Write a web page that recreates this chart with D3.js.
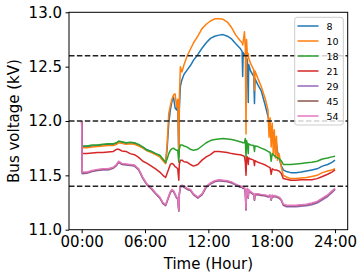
<!DOCTYPE html>
<html><head><meta charset="utf-8">
<script src="https://cdn.jsdelivr.net/npm/d3@7"></script>
<style>body{margin:0;background:#fff;} svg{display:block;font-family:"DejaVu Sans",sans-serif;}</style>
</head><body><svg id="c" width="364" height="278"></svg>
<script>
const hours = [0, 0.05, 0.5, 1, 1.5, 2, 2.5, 3, 3.3, 3.5,
  3.8, 4.2, 4.6, 5, 5.4, 5.8, 6.2, 6.6, 7, 7.4,
  7.7, 7.95, 8.1, 8.25, 8.4, 8.55, 8.7, 8.85, 9, 9.1,
  9.2, 9.25, 9.35, 9.5, 9.7, 10, 10.3, 10.6, 11, 11.4,
  11.8, 12.2, 12.6, 13, 13.4, 13.8, 14.2, 14.6, 15, 15.2,
  15.25, 15.3, 15.42, 15.5, 15.57, 15.62, 15.7, 15.78, 15.82, 16,
  16.3, 16.37, 16.42, 16.7, 17, 17.4, 17.65, 17.75, 17.85, 17.95,
  18.05, 18.15, 18.25, 18.35, 18.45, 18.55, 18.7, 18.9, 19.1, 19.4,
  19.8, 20.3, 20.8, 21.3, 21.8, 22.3, 22.8, 23.3, 23.7, 24];

const bus8 = [12.00, 11.765, 11.765, 11.77, 11.775, 11.78, 11.785, 11.785, 11.795, 11.81,
  11.805, 11.795, 11.80, 11.795, 11.78, 11.76, 11.735, 11.72, 11.70, 11.68,
  11.64, 11.61, 11.75, 11.98, 12.10, 12.18, 12.22, 12.12, 12.10, 12.18,
  11.67, 12.10, 12.32, 12.38, 12.43, 12.47, 12.51, 12.56, 12.61, 12.67,
  12.72, 12.76, 12.78, 12.79, 12.795, 12.78, 12.755, 12.71, 12.67, 12.64,
  12.41, 12.63, 12.61, 12.62, 12.55, 12.58, 12.56, 12.17, 12.52, 12.46,
  12.41, 12.16, 12.39, 12.33, 12.28, 12.14, 12.04, 12.00, 11.97, 11.94,
  11.92, 11.88, 11.85, 11.82, 11.79, 11.72, 11.66, 11.59, 11.55, 11.535,
  11.525, 11.525, 11.53, 11.54, 11.55, 11.56, 11.585, 11.60, 11.62, 11.64];

const bus10 = [12.00, 11.755, 11.755, 11.76, 11.765, 11.77, 11.775, 11.775, 11.785, 11.80,
  11.795, 11.785, 11.79, 11.785, 11.77, 11.75, 11.725, 11.71, 11.69, 11.67,
  11.635, 11.61, 11.80, 12.07, 12.14, 12.20, 12.24, 12.25, 12.13, 12.20,
  11.67, 12.20, 12.50, 12.45, 12.52, 12.60, 12.66, 12.72, 12.78, 12.85,
  12.89, 12.92, 12.94, 12.94, 12.935, 12.91, 12.86, 12.79, 12.74, 12.72,
  12.70, 12.73, 12.82, 12.68, 11.88, 12.75, 12.60, 12.62, 12.58, 12.53,
  12.47, 12.28, 12.46, 12.39, 12.32, 12.20, 12.10, 11.85, 12.03, 11.76,
  11.98, 11.70, 11.92, 11.66, 11.86, 11.64, 11.70, 11.58, 11.50, 11.485,
  11.47, 11.47, 11.475, 11.48, 11.49, 11.50, 11.525, 11.54, 11.55, 11.56];

const bus18 = [12.00, 11.77, 11.77, 11.78, 11.78, 11.785, 11.79, 11.79, 11.80, 11.815,
  11.81, 11.80, 11.805, 11.80, 11.785, 11.76, 11.73, 11.72, 11.70, 11.685,
  11.65, 11.62, 11.65, 11.70, 11.73, 11.745, 11.75, 11.74, 11.73, 11.73,
  11.62, 11.74, 11.78, 11.78, 11.77, 11.76, 11.74, 11.73, 11.74, 11.77,
  11.80, 11.82, 11.83, 11.835, 11.84, 11.835, 11.83, 11.82, 11.81, 11.805,
  11.80, 11.80, 11.80, 11.84, 11.66, 11.82, 11.79, 11.70, 11.79, 11.78,
  11.775, 11.72, 11.77, 11.765, 11.75, 11.735, 11.72, 11.715, 11.71, 11.63,
  11.70, 11.69, 11.68, 11.675, 11.665, 11.66, 11.655, 11.635, 11.60, 11.60,
  11.60, 11.605, 11.61, 11.615, 11.62, 11.63, 11.65, 11.66, 11.67, 11.675];

const bus21 = [12.00, 11.70, 11.70, 11.705, 11.71, 11.71, 11.715, 11.72, 11.74, 11.74,
  11.725, 11.72, 11.70, 11.69, 11.665, 11.63, 11.61, 11.585, 11.56, 11.53,
  11.50, 11.48, 11.52, 11.56, 11.60, 11.61, 11.60, 11.58, 11.57, 11.56,
  11.455, 11.60, 11.64, 11.64, 11.625, 11.62, 11.60, 11.585, 11.60, 11.64,
  11.67, 11.69, 11.72, 11.72, 11.715, 11.71, 11.70, 11.695, 11.69, 11.685,
  11.68, 11.68, 11.675, 11.62, 11.50, 11.66, 11.67, 11.60, 11.66, 11.65,
  11.64, 11.59, 11.635, 11.62, 11.61, 11.595, 11.58, 11.575, 11.57, 11.51,
  11.56, 11.555, 11.55, 11.55, 11.55, 11.545, 11.54, 11.52, 11.47, 11.465,
  11.455, 11.455, 11.46, 11.46, 11.46, 11.47, 11.49, 11.51, 11.53, 11.55];

const bus29 = [12.00, 11.515, 11.52, 11.535, 11.545, 11.55, 11.55, 11.565, 11.59, 11.62,
  11.60, 11.595, 11.59, 11.585, 11.55, 11.47, 11.41, 11.375, 11.33, 11.29,
  11.24, 11.22, 11.26, 11.30, 11.34, 11.36, 11.35, 11.32, 11.29, 11.28,
  11.17, 11.32, 11.39, 11.40, 11.39, 11.37, 11.36, 11.32, 11.29, 11.32,
  11.39, 11.42, 11.44, 11.45, 11.445, 11.44, 11.43, 11.41, 11.39, 11.39,
  11.38, 11.38, 11.38, 11.34, 11.18, 11.35, 11.37, 11.29, 11.36, 11.34,
  11.32, 11.27, 11.32, 11.32, 11.315, 11.31, 11.30, 11.305, 11.31, 11.27,
  11.31, 11.30, 11.305, 11.30, 11.30, 11.295, 11.29, 11.27, 11.225, 11.21,
  11.21, 11.21, 11.215, 11.22, 11.23, 11.245, 11.275, 11.305, 11.34, 11.37];

const bus45 = [12.00, 11.525, 11.525, 11.54, 11.55, 11.555, 11.555, 11.57, 11.595, 11.625,
  11.605, 11.60, 11.595, 11.59, 11.555, 11.475, 11.415, 11.38, 11.335, 11.295,
  11.245, 11.225, 11.265, 11.305, 11.345, 11.365, 11.355, 11.325, 11.295, 11.285,
  11.175, 11.325, 11.395, 11.405, 11.395, 11.375, 11.365, 11.325, 11.295, 11.325,
  11.395, 11.425, 11.445, 11.455, 11.45, 11.445, 11.435, 11.415, 11.395, 11.395,
  11.385, 11.385, 11.385, 11.345, 11.185, 11.355, 11.375, 11.295, 11.365, 11.345,
  11.325, 11.275, 11.325, 11.325, 11.32, 11.315, 11.305, 11.31, 11.315, 11.275,
  11.315, 11.305, 11.31, 11.305, 11.305, 11.30, 11.295, 11.275, 11.23, 11.22,
  11.22, 11.22, 11.225, 11.23, 11.24, 11.255, 11.285, 11.315, 11.35, 11.375];

const bus54 = [12.00, 11.53, 11.53, 11.545, 11.555, 11.56, 11.56, 11.575, 11.60, 11.63,
  11.61, 11.605, 11.60, 11.595, 11.56, 11.48, 11.42, 11.385, 11.34, 11.30,
  11.25, 11.23, 11.27, 11.31, 11.35, 11.37, 11.36, 11.33, 11.30, 11.29,
  11.18, 11.33, 11.40, 11.41, 11.40, 11.38, 11.37, 11.33, 11.30, 11.33,
  11.40, 11.43, 11.45, 11.46, 11.455, 11.45, 11.44, 11.42, 11.40, 11.40,
  11.39, 11.39, 11.39, 11.35, 11.19, 11.36, 11.38, 11.30, 11.37, 11.35,
  11.33, 11.28, 11.33, 11.33, 11.325, 11.32, 11.31, 11.315, 11.32, 11.28,
  11.32, 11.31, 11.315, 11.31, 11.31, 11.305, 11.30, 11.28, 11.235, 11.225,
  11.225, 11.225, 11.23, 11.235, 11.245, 11.26, 11.29, 11.32, 11.355, 11.38];

const seriesNames = ["8", "10", "18", "21", "29", "45", "54"];
const seriesValues = [bus8, bus10, bus18, bus21, bus29, bus45, bus54];
const seriesColors = ["#1f77b4", "#ff7f0e", "#2ca02c", "#d62728", "#9467bd", "#8c564b", "#e377c2"];
const limitLines = [12.6, 12.0, 11.4];
const yTicks = [11.0, 11.5, 12.0, 12.5, 13.0];
const xTicks = [0, 6, 12, 18, 24];
const xTickLabels = ["00:00", "06:00", "12:00", "18:00", "24:00"];

const svg = d3.select("#c");
const L = 69, R = 347.7, T = 12.3, B = 229.7;
const x = d3.scaleLinear().domain([-1.2, 25.2]).range([L, R]);
const y = d3.scaleLinear().domain([11, 13]).range([B, T]);

const clip = svg.append("clipPath").attr("id", "clp").append("rect")
  .attr("x", L).attr("y", T).attr("width", R - L).attr("height", B - T);

const line = d3.line().x(d => x(d[0])).y(d => y(d[1]));
const gLines = svg.append("g").attr("clip-path", "url(#clp)");
seriesValues.forEach((vals, i) => {
  gLines.append("path")
    .attr("d", line(hours.map((h, j) => [h, vals[j]])))
    .attr("fill", "none")
    .attr("stroke", seriesColors[i])
    .attr("stroke-width", 1.5)
    .attr("stroke-linejoin", "round");
});

svg.append("g").selectAll("line").data(limitLines).join("line")
  .attr("x1", L).attr("x2", R)
  .attr("y1", d => y(d)).attr("y2", d => y(d))
  .attr("stroke", "#222").attr("stroke-width", 1.5)
  .attr("stroke-dasharray", "5.5,2.4");

// frame
svg.append("rect").attr("x", L).attr("y", T).attr("width", R - L).attr("height", B - T)
  .attr("fill", "none").attr("stroke", "#000").attr("stroke-width", 1);

const yAxis = svg.append("g").attr("transform", `translate(${L},0)`)
  .call(d3.axisLeft(y).tickValues(yTicks).tickFormat(d3.format(".1f")).tickSize(3.5).tickPadding(3.5));
const xAxis = svg.append("g").attr("transform", `translate(0,${B})`)
  .call(d3.axisBottom(x).tickValues(xTicks).tickFormat((d, i) => xTickLabels[i]).tickSize(3.5).tickPadding(3.5));
[yAxis, xAxis].forEach(g => {
  g.select(".domain").remove();
  g.selectAll("text").attr("font-size", 15).attr("font-family", "DejaVu Sans").attr("fill", "#000");
  g.selectAll("line").attr("stroke", "#000");
});

svg.append("text").attr("x", (L + R) / 2).attr("y", 268.5)
  .attr("text-anchor", "middle").attr("font-size", 15).text("Time (Hour)");
svg.append("text").attr("transform", `translate(18.5,${(T + B) / 2}) rotate(-90)`)
  .attr("text-anchor", "middle").attr("font-size", 15).text("Bus voltage (kV)");

// legend
const lg = svg.append("g");
lg.append("rect").attr("x", 294.7).attr("y", 17.3).attr("width", 48.6).attr("height", 107.7)
  .attr("rx", 2.5).attr("fill", "#fff").attr("fill-opacity", 0.8)
  .attr("stroke", "#ccc").attr("stroke-width", 1);
seriesNames.forEach((n, i) => {
  const cy = 26 + i * 15;
  lg.append("line").attr("x1", 297.5).attr("x2", 318.5).attr("y1", cy).attr("y2", cy)
    .attr("stroke", seriesColors[i]).attr("stroke-width", 1.5);
  lg.append("text").attr("x", 326.5).attr("y", cy + 3.5).attr("font-size", 9.5)
    .attr("fill", "#000").text(n);
});
</script></body></html>
